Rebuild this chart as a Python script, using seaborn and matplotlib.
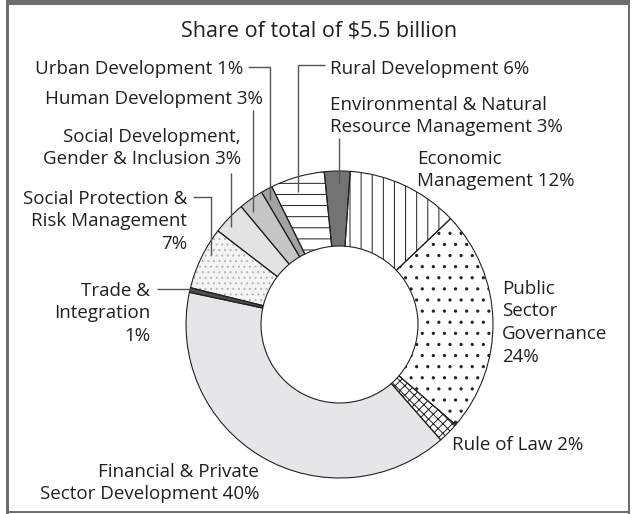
import matplotlib
matplotlib.use("Agg")
import matplotlib.pyplot as plt
import seaborn as sns
from matplotlib.patches import Rectangle

# ---------------- data ----------------
sectors = ["Economic Management", "Public Sector Governance", "Rule of Law",
           "Financial & Private Sector Development", "Trade & Integration",
           "Social Protection & Risk Management",
           "Social Development, Gender & Inclusion", "Human Development",
           "Urban Development", "Rural Development",
           "Environmental & Natural Resource Management"]
shares = [11.8, 23.5, 2.2, 39.9, 0.5, 6.6, 3.5, 2.6, 1.2, 5.7, 2.7]
pct_labels = [12, 24, 2, 40, 1, 7, 3, 3, 1, 6, 3]
title = "Share of total of $5.5 billion"

# ---------------- style ----------------
sns.set_theme(style="white")
plt.rcParams["font.family"] = ["Open Sans", "DejaVu Sans"]
plt.rcParams["hatch.linewidth"] = 0.35

DPI = 200
W, H = 632, 514


def pt(px):
    return px * 72 / DPI


def Y(py):
    return H - py


TXT = "#231f20"
EDGE = "#231f20"
LEAD = "#555555"
FRAME = "#6d6d6d"

face_colors = ["white", "white", "white", "#e6e6e8", "#4d4d4d", "#f4f4f4",
               "#e3e3e3", "#c6c6c6", "#a3a3a3", "white", "#737373"]
hatches = ["|||", "...", "xxxxxxx", None, None, "......", None, None, None, "---", None]
hatch_colors = [EDGE, EDGE, EDGE, EDGE, EDGE, "#b5b5b5", EDGE, EDGE, EDGE, EDGE, EDGE]

fig = plt.figure(figsize=(W / DPI, H / DPI), dpi=DPI)
fig.patch.set_facecolor("white")
ax = fig.add_axes([0, 0, 1, 1])

cx, cy, R, r = 339.5, 324.5, 153.5, 78.5

wedges, _ = ax.pie(shares, radius=R, center=(cx, Y(cy)), startangle=86,
                   counterclock=False, wedgeprops=dict(width=R - r, linewidth=0))
for w, fc, hh, hc in zip(wedges, face_colors, hatches, hatch_colors):
    w.set_facecolor(fc)
    w.set_edgecolor(hc)
    w.set_linewidth(0)
    if hh:
        w.set_hatch(hh)

ax.pie(shares, radius=R, center=(cx, Y(cy)), startangle=86, counterclock=False,
       wedgeprops=dict(width=R - r, edgecolor=EDGE, linewidth=pt(1.1), fill=False))

ax.set_xlim(0, W)
ax.set_ylim(0, H)
ax.set_aspect("equal")
ax.axis("off")

# frame
for x0, y0, w0, h0 in [(6, 0, 624, 4.5), (6, 0, 3, H), (627.5, 0, 2.5, H), (6, 510.5, 624, 2.5)]:
    ax.add_patch(Rectangle((x0, Y(y0 + h0)), w0, h0, facecolor=FRAME, edgecolor="none", zorder=5))

FS = pt(18.8)
PITCH = 22.8

ax.text(319.5, Y(36.7), title, ha="center", va="baseline", fontsize=pt(21.5), color=TXT)

labels = {
    "Urban Development": (["Urban Development 1%"], "right", 243, 67),
    "Human Development": (["Human Development 3%"], "right", 263, 97),
    "Social Development, Gender & Inclusion": (["Social Development,", "Gender & Inclusion 3%"], "right", 241, 135),
    "Social Protection & Risk Management": (["Social Protection &", "Risk Management", "7%"], "right", 187, 197),
    "Trade & Integration": (["Trade &", "Integration", "1%"], "right", 150, 289),
    "Financial & Private Sector Development": (["Financial & Private", "Sector Development 40%"], "right", 259, 470),
    "Rule of Law": (["Rule of Law 2%"], "left", 452, 443),
    "Public Sector Governance": (["Public", "Sector", "Governance", "24%"], "left", 502, 287),
    "Economic Management": (["Economic", "Management 12%"], "left", 417, 157),
    "Environmental & Natural Resource Management": (["Environmental & Natural", "Resource Management 3%"], "left", 330, 103),
    "Rural Development": (["Rural Development 6%"], "left", 330, 67),
}
for name in sectors:
    lines, ha, x, y0 = labels[name]
    for i, line in enumerate(lines):
        ax.text(x, Y(y0 + i * PITCH + 6.6), line, ha=ha, va="baseline", fontsize=FS, color=TXT)

leaders = [
    [(248, 67), (270, 67), (270, 200)],
    [(253, 110), (253, 212)],
    [(231, 173), (231, 227)],
    [(193, 197), (211, 197), (211, 255)],
    [(157, 289), (191, 289)],
    [(325, 65), (298, 65), (298, 192)],
    [(339, 138), (339, 183)],
]
for pts in leaders:
    xs = [p[0] for p in pts]
    ys = [Y(p[1]) for p in pts]
    ax.plot(xs, ys, color=LEAD, lw=pt(1.4), solid_capstyle="butt", zorder=4)

fig.savefig("out.png", dpi=DPI, facecolor="white")
